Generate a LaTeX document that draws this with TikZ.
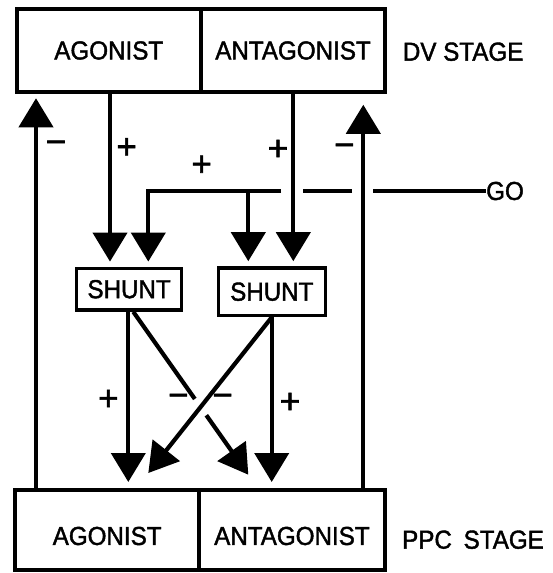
\documentclass[tikz,border=0pt]{standalone}
\usepackage{fontspec}
\setmainfont{Liberation Sans}
\newfontfamily\lblfont[FakeStretch=0.93,FakeBold=1.6]{Liberation Sans}
\newfontfamily\sgnfont[FakeBold=1.6]{Liberation Sans}
\usetikzlibrary{arrows.meta,calc}
\begin{document}
\begin{tikzpicture}[x=1pt,y=-1pt,
  line join=miter,
  txt/.style={font=\lblfont\fontsize{26}{26}\selectfont, inner sep=0pt},
  bigbox/.style={txt, draw, line width=4pt, minimum height=82.5pt},
  shuntbox/.style={txt, draw, line width=3.5pt},
  sgn/.style={font=\sgnfont\fontsize{35}{35}\selectfont, inner sep=0pt},
  ln/.style={line width=4.2pt},
  arr/.style={ln, -{Triangle[width=34pt,length=29pt]}}]
\useasboundingbox (0,0) rectangle (552,573);

% stages
\node[bigbox, minimum width=184.5pt] (dvag) at (108.75,50.5) {AGONIST};
\node[bigbox, minimum width=184pt] (dvan) at (293,50.5) {ANTAGONIST};
\node[txt, anchor=west] (dvst) at (402.7,51.7) {DV STAGE};

\node[bigbox, minimum width=184.3pt, minimum height=80pt] (ppcag) at (107.15,530) {\raisebox{-6pt}[\height][\depth]{AGONIST}};
\node[bigbox, minimum width=185.2pt, minimum height=80pt] (ppcan) at (291.9,530) {\raisebox{-6pt}[\height][\depth]{ANTAGONIST}};
\node[txt, anchor=west] (ppcst) at (402,539.7) {PPC\hspace{5pt} STAGE};

% shunts
\node[shuntbox, minimum width=105.2pt, minimum height=41.7pt] (shL) at (129.1,289.2) {SHUNT};
\node[shuntbox, minimum width=107pt, minimum height=47.5pt] (shR) at (271.8,291.7) {SHUNT};

% GO signal
\node[txt, anchor=west] (go) at (486,191) {GO};
\coordinate (g1) at (148.3,191);
\coordinate (g2) at (248.3,191);
\coordinate (gE1) at (281,191);
\coordinate (gS2) at (303,191);
\coordinate (gE2) at (352,191);
\coordinate (gS3) at (373,191);
\draw[ln] (go.west) -- (gS3);
\draw[ln] (gE2) -- (gS2);
\draw[arr, shorten >=5pt] (gE1) -- (g1) -- (g1 |- shL.north);
\draw[arr, shorten >=5pt] (g2) -- (g2 |- shR.north);

% DV -> shunts
\draw[arr, shorten >=5pt] (110,0 |- dvag.south) -- (110,0 |- shL.north);
\draw[arr, shorten >=5pt] (293.3,0 |- dvan.south) -- (293.3,0 |- shR.north);

% feedback PPC -> DV
\draw[arr, shorten >=4.5pt] (36,0 |- ppcag.north) -- (36,0 |- dvag.south);
\draw[arr, shorten >=11pt] (363.3,0 |- ppcan.north) -- (363.3,0 |- dvan.south);

% shunts -> PPC
\draw[arr, shorten >=6pt] (128.3,0 |- shL.south) -- (128.3,0 |- ppcag.north);
\draw[arr, shorten >=6pt] (271.7,0 |- shR.south) -- (271.7,0 |- ppcan.north);
\coordinate (lS) at (133.3,0 |- shL.south);
\coordinate (lT) at (248.3,474.7);
\coordinate (rT) at (148.3,473);
\draw[ln] (lS) -- ($(lS)!0.535!(lT)$);
\draw[arr] ($(lS)!0.635!(lT)$) -- (lT);
\draw[arr] (shR.south) -- (rT);

% signs
\node[sgn] (s1) at (56,147) {−};
\node[sgn] (s2) at (126.7,148.3) {+};
\node[sgn] (s3) at (201.7,165.7) {+};
\node[sgn] (s4) at (278,150) {+};
\node[sgn] (s5) at (344.3,150) {−};
\node[sgn] (s6) at (108.3,400) {+};
\node[sgn] (s7) at (178.3,400.3) {−};
\node[sgn] (s8) at (222.7,400.3) {−};
\node[sgn] (s9) at (290,403) {+};
\end{tikzpicture}
\end{document}
